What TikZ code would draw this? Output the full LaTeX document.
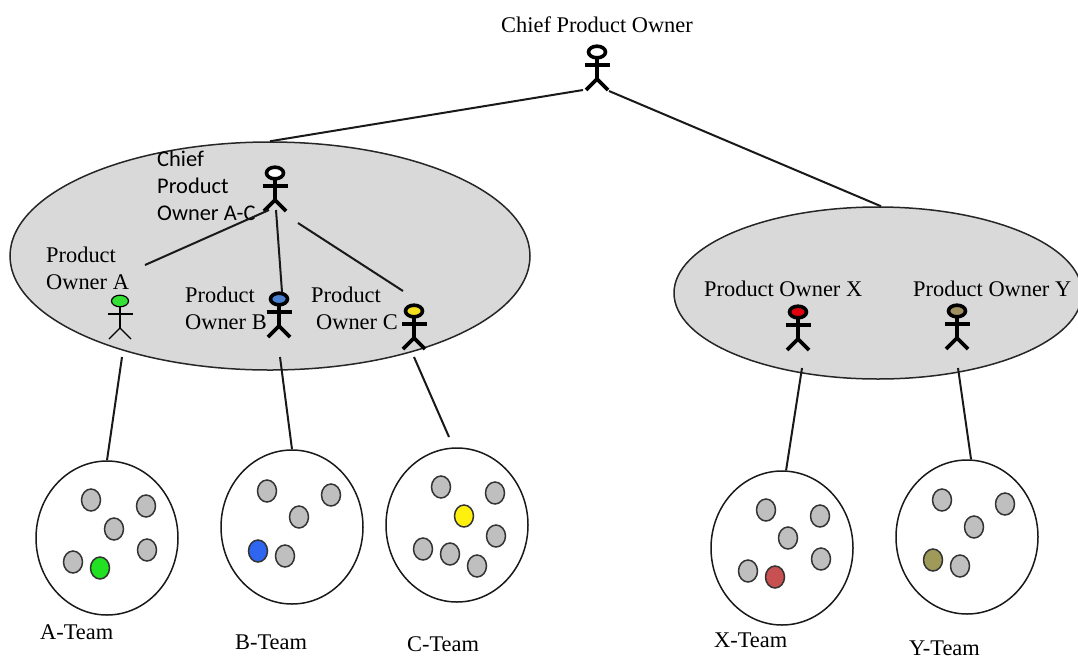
\documentclass[tikz,border=0pt]{standalone}
\usepackage{fontspec}
\setmainfont{Liberation Serif}
\newfontfamily\labelsans{Carlito}
\usetikzlibrary{shapes.geometric}
\def\stickfigure[#1](#2)(#3){\begin{scope}[shift={(#2)},line width=#1]
	\draw[fill=#3] (0, 0) ellipse (8.5 and 5.8);
	\draw (-12.5, 13) -- (12.5, 13);
	\draw (0, 6) -- (0, 27);
	\draw (-11, 38) -- (0, 27) -- (11, 38);
\end{scope}}
\tikzset{
	group/.style={draw=black!85, fill=black!15, ellipse, line width=1.5pt, inner sep=0pt},
	team/.style={draw=black!90, fill=white, ellipse, line width=1.5pt, inner sep=0pt, minimum width=142pt, minimum height=154pt},
	member/.style={draw=black!80, fill=black!25, ellipse, line width=1.5pt, inner sep=0pt, minimum width=19pt, minimum height=22pt},
	link/.style={line width=2pt, color=black!90},
	title/.style={inner sep=0pt, align=left, anchor=west, font=\fontsize{22.4}{27}\selectfont}
}
\definecolor{headgreen}{HTML}{33E033}
\definecolor{headblue}{HTML}{4A7FD0}
\definecolor{headyellow}{HTML}{F5E020}
\definecolor{headred}{HTML}{E00010}
\definecolor{headolive}{HTML}{A09060}
\definecolor{dotgreen}{HTML}{22E022}
\definecolor{dotblue}{HTML}{2F66F0}
\definecolor{dotyellow}{HTML}{FFF010}
\definecolor{dotred}{HTML}{C85050}
\definecolor{dotolive}{HTML}{A09A5A}
\begin{document}
\begin{tikzpicture}[x=1pt, y=-1pt]
			%%%%% START %%%%%
			\useasboundingbox (0, 0) rectangle (1078, 659);
			
			\node[group, minimum width=520pt, minimum height=228pt] (groupleft) at (270, 256) {};
			\node[group, minimum width=408pt, minimum height=172pt] (groupright) at (878, 293) {};
			
			\stickfigure[3.6pt](597, 52)(white)
			\stickfigure[3.6pt](275, 173)(white)
			\stickfigure[1.2pt](120, 301)(headgreen)
			\stickfigure[3.6pt](279, 299)(headblue)
			\stickfigure[3.6pt](414, 311)(headyellow)
			\stickfigure[3.6pt](798, 312)(headred)
			\stickfigure[3.6pt](957, 311)(headolive)
			
			\node[title, anchor=center] (chieftop) at (597, 25) {Chief Product Owner};
			\node[title, font=\labelsans\fontsize{22.4}{27}\selectfont] (chiefac) at (157, 186) {Chief\\Product\\Owner A-C};
			\node[title] (ownera) at (46, 268) {Product\\Owner A};
			\node[title] (ownerb) at (185, 308) {Product\\Owner B};
			\node[title] (ownerc) at (311, 308) {Product\\\hspace*{5pt}Owner C};
			\node[title] (ownerx) at (704, 289) {Product Owner X};
			\node[title] (ownery) at (913, 289) {Product Owner Y};
			
			\node[team] (teama) at (107, 538) {};
			\node[team] (teamb) at (292, 527) {};
			\node[team] (teamc) at (457, 525) {};
			\node[team] (teamx) at (782, 548) {};
			\node[team] (teamy) at (967, 537) {};
			
			\node[member] (a1) at (91, 500) {};
			\node[member] (a2) at (146, 506) {};
			\node[member] (a3) at (114, 529) {};
			\node[member] (a4) at (147, 550) {};
			\node[member] (a5) at (73, 562) {};
			\node[member, fill=dotgreen] (a6) at (100, 568) {};
			
			\node[member] (b1) at (267, 491) {};
			\node[member] (b2) at (331, 495) {};
			\node[member] (b3) at (299, 517) {};
			\node[member, fill=dotblue] (b4) at (258, 551) {};
			\node[member] (b5) at (285, 556) {};
			
			\node[member] (c1) at (441, 487) {};
			\node[member] (c2) at (495, 493) {};
			\node[member, fill=dotyellow] (c3) at (464, 516) {};
			\node[member] (c4) at (496, 536) {};
			\node[member] (c5) at (423, 549) {};
			\node[member] (c6) at (450, 554) {};
			\node[member] (c7) at (477, 566) {};
			
			\node[member] (x1) at (766, 510) {};
			\node[member] (x2) at (820, 516) {};
			\node[member] (x3) at (788, 538) {};
			\node[member] (x4) at (821, 559) {};
			\node[member] (x5) at (748, 571) {};
			\node[member, fill=dotred] (x6) at (775, 577) {};
			
			\node[member] (y1) at (942, 500) {};
			\node[member] (y2) at (1005, 504) {};
			\node[member] (y3) at (974, 527) {};
			\node[member, fill=dotolive] (y4) at (933, 560) {};
			\node[member] (y5) at (960, 566) {};
			
			\node[title] (labela) at (40, 632) {A-Team};
			\node[title] (labelb) at (235, 642) {B-Team};
			\node[title] (labelc) at (407, 644) {C-Team};
			\node[title] (labelx) at (714, 640) {X-Team};
			\node[title] (labely) at (909, 648.5) {Y-Team};
			
			\coordinate (topleft) at (583, 90);
			\coordinate (topright) at (609, 91);
			\coordinate (acleft) at (269, 210);
			\coordinate (acmid) at (276, 210);
			\coordinate (acright) at (298, 223);
			\coordinate (enda) at (145, 265);
			\coordinate (endb) at (282, 292);
			\coordinate (endc) at (403, 291);
			\coordinate (downa) at (122, 357);
			\coordinate (downb) at (280, 357);
			\coordinate (downc) at (414, 357);
			\coordinate (downx) at (802, 368);
			\coordinate (downy) at (958, 368);
			\coordinate (tipc) at (449, 437);
			
			\draw[link] (topleft) -- (groupleft.north);
			\draw[link] (topright) -- (groupright.88);
			\draw[link] (acleft) -- (enda);
			\draw[link] (acmid) -- (endb);
			\draw[link] (acright) -- (endc);
			\draw[link] (downa) -- (teama.north);
			\draw[link] (downb) -- (teamb.north);
			\draw[link] (downc) -- (tipc);
			\draw[link] (downx) -- (teamx.87);
			\draw[link] (downy) -- (teamy.87);
			
			%%%%% END %%%%%
		\end{tikzpicture}
\end{document}
